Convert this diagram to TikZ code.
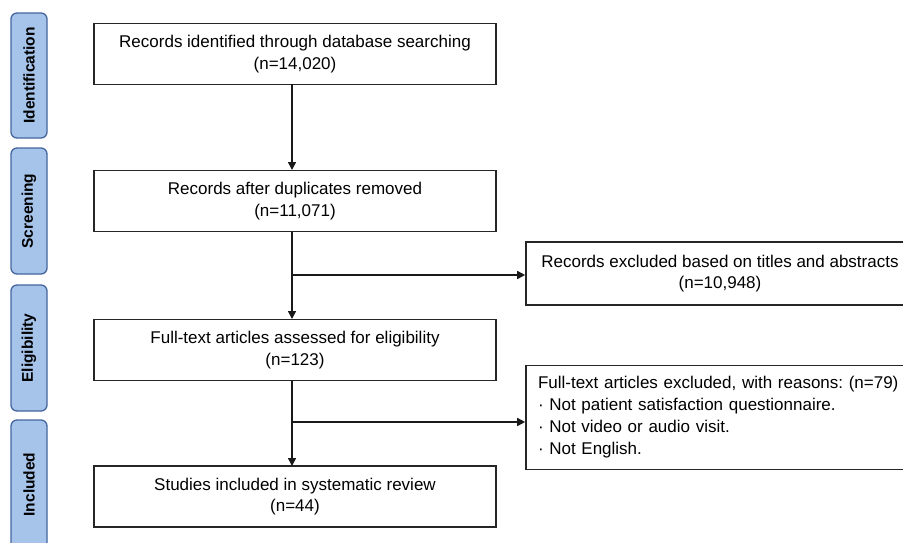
\documentclass[tikz,border=0pt]{standalone}
\usepackage{fontspec}
\setmainfont{Liberation Sans}
\usetikzlibrary{arrows.meta}
\definecolor{sidefill}{HTML}{A6C3EA}
\definecolor{sidedraw}{HTML}{44659E}
\frenchspacing
\tikzset{
  mainbox/.style={draw=black!85, line width=1.6pt, minimum width=402pt, minimum height=61pt, inner sep=0pt, align=center, font=\fontsize{17}{21.5}\selectfont},
  sidebox/.style={draw=none, inner sep=0pt, minimum width=126pt, minimum height=36pt, rotate=90, font=\bfseries\fontsize{15.5}{18}\selectfont},
  sideshape/.style={draw=sidedraw, fill=sidefill, line width=1.3pt, rounded corners=6pt},
  conn/.style={line width=1.6pt, draw=black!90, -{Triangle[length=8pt,width=8pt]}},
}
\begin{document}
\begin{tikzpicture}[x=1pt,y=-1pt]
\useasboundingbox (0,0) rectangle (903,542);
% sidebars
\draw[sideshape] (11,13) rectangle (47,138);
\draw[sideshape] (11,148) rectangle (47,274);
\draw[sideshape] (11,285) rectangle (47,411);
\draw[sideshape] (11,420) rectangle (47,552);
\node[sidebox] (s1) at (29,75.5) {Identification};
\node[sidebox] (s2) at (29,211) {Screening};
\node[sidebox] (s3) at (29,348) {Eligibility};
\node[sidebox] (s4) at (29,484.5) {Included};
% main boxes
\node[mainbox] (b1) at (295,54) {Records identified through database searching\\(n=14,020)};
\node[mainbox] (b2) at (295,201) {Records after duplicates removed\\(n=11,071)};
\node[mainbox] (b3) at (295,350) {Full-text articles assessed for eligibility\\(n=123)};
\node[mainbox] (b4) at (295,496.5) {Studies included in systematic review\\(n=44)};
% right boxes
\node[mainbox, minimum width=388pt, minimum height=63pt] (r1) at (720,273.5) {Records excluded based on titles and abstracts\\(n=10,948)};
\node[mainbox, minimum width=388pt, minimum height=104pt, align=left, text width=364pt, font=\fontsize{17}{22}\selectfont] (r2) at (720,417.5) {Full-text articles excluded, with reasons: (n=79)\\· Not patient satisfaction questionnaire.\\· Not video or audio visit.\\· Not English.};
\path[use as bounding box] (0,0) rectangle (903,542);
% connectors
\coordinate (t1) at (292,84);
\coordinate (t2) at (292,170);
\coordinate (t3) at (292,232);
\coordinate (t4) at (292,319);
\coordinate (t5) at (292,381);
\coordinate (t6) at (292,466);
\coordinate (br1) at (292,275);
\coordinate (br2) at (292,422);
\draw[conn] (t1) -- (t2);
\draw[conn] (t3) -- (t4);
\draw[conn] (t5) -- (t6);
\draw[conn] (br1) -- (br1 -| r1.west);
\draw[conn] (br2) -- (br2 -| r2.west);
\end{tikzpicture}
\end{document}
